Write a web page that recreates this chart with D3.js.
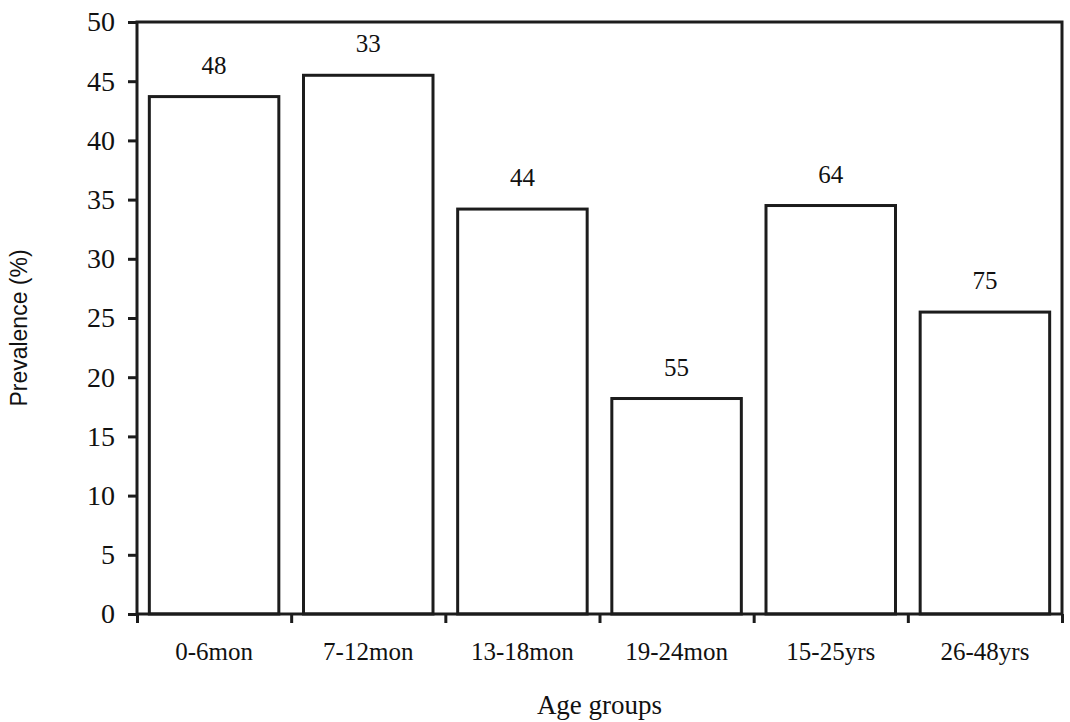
<!DOCTYPE html>
<html>
<head>
<meta charset="utf-8">
<script src="https://cdn.jsdelivr.net/npm/d3@7"></script>
<style>
  body { margin: 0; background: #fff; }
  .axis text { font-family: "Liberation Serif", "Times New Roman", serif; fill: #111; }
  .axis path, .axis line { stroke: #1c1c1c; stroke-width: 3; }
</style>
</head>
<body>
<svg id="chart"></svg>
<script>
// Data
const categories = ["0-6mon", "7-12mon", "13-18mon", "19-24mon", "15-25yrs", "26-48yrs"];
const prevalence = [43.7, 45.5, 34.2, 18.2, 34.5, 25.5];
const sampleSizes = ["48", "33", "44", "55", "64", "75"];
const yTicks = [0, 5, 10, 15, 20, 25, 30, 35, 40, 45, 50];

const W = 1070, H = 722;
const plot = { left: 137, right: 1062, top: 22, bottom: 614 };

const svg = d3.select("#chart")
    .attr("width", W)
    .attr("height", H);

const data = categories.map((c, i) => ({ cat: c, value: prevalence[i], n: sampleSizes[i] }));

// Scales
const x = d3.scaleBand()
    .domain(categories)
    .range([plot.left, plot.right]);

const xEdges = d3.scaleLinear()
    .domain([0, categories.length])
    .range([plot.left, plot.right]);

const y = d3.scaleLinear()
    .domain([0, 50])
    .range([plot.bottom, plot.top]);

const barPad = 0.08;

// Bars
svg.append("g")
    .selectAll("rect")
    .data(data)
    .join("rect")
    .attr("x", d => x(d.cat) + x.bandwidth() * barPad)
    .attr("y", d => y(d.value))
    .attr("width", x.bandwidth() * (1 - 2 * barPad))
    .attr("height", d => y(0) - y(d.value))
    .attr("fill", "#fff")
    .attr("stroke", "#1c1c1c")
    .attr("stroke-width", 3);

// Value labels (sample sizes)
svg.append("g")
    .selectAll("text")
    .data(data)
    .join("text")
    .attr("x", d => x(d.cat) + x.bandwidth() / 2)
    .attr("y", d => y(d.value) - 23)
    .attr("text-anchor", "middle")
    .style("font-family", "'Liberation Serif', serif")
    .style("font-size", "25px")
    .style("fill", "#111")
    .text(d => d.n);

// Frame
svg.append("rect")
    .attr("x", plot.left)
    .attr("y", plot.top)
    .attr("width", plot.right - plot.left)
    .attr("height", plot.bottom - plot.top)
    .attr("fill", "none")
    .attr("stroke", "#1c1c1c")
    .attr("stroke-width", 3);

// Y axis
svg.append("g")
    .attr("class", "axis")
    .attr("transform", `translate(${plot.left},0)`)
    .call(d3.axisLeft(y).tickValues(yTicks).tickSize(9).tickPadding(13))
    .call(g => g.select(".domain").remove())
    .call(g => g.selectAll("text").style("font-size", "28px"));

// X axis tick marks at band edges
svg.append("g")
    .attr("class", "axis")
    .attr("transform", `translate(0,${plot.bottom})`)
    .call(d3.axisBottom(xEdges).tickValues(d3.range(categories.length + 1)).tickSize(9).tickFormat(""))
    .call(g => g.select(".domain").remove());

// X category labels
svg.append("g")
    .attr("class", "axis")
    .attr("transform", `translate(0,${plot.bottom})`)
    .call(d3.axisBottom(x).tickSize(0).tickPadding(28))
    .call(g => g.select(".domain").remove())
    .call(g => g.selectAll("text").style("font-size", "25px"));

// Axis titles
svg.append("text")
    .attr("x", (plot.left + plot.right) / 2)
    .attr("y", 714)
    .attr("text-anchor", "middle")
    .style("font-family", "'Liberation Serif', serif")
    .style("font-size", "27px")
    .style("fill", "#111")
    .text("Age groups");

svg.append("text")
    .attr("transform", "rotate(-90)")
    .attr("x", -(plot.top + plot.bottom) / 2 - 10)
    .attr("y", 27)
    .attr("text-anchor", "middle")
    .style("font-family", "'Liberation Sans', Arial, sans-serif")
    .style("font-size", "23px")
    .style("fill", "#111")
    .text("Prevalence (%)");
</script>
</body>
</html>
